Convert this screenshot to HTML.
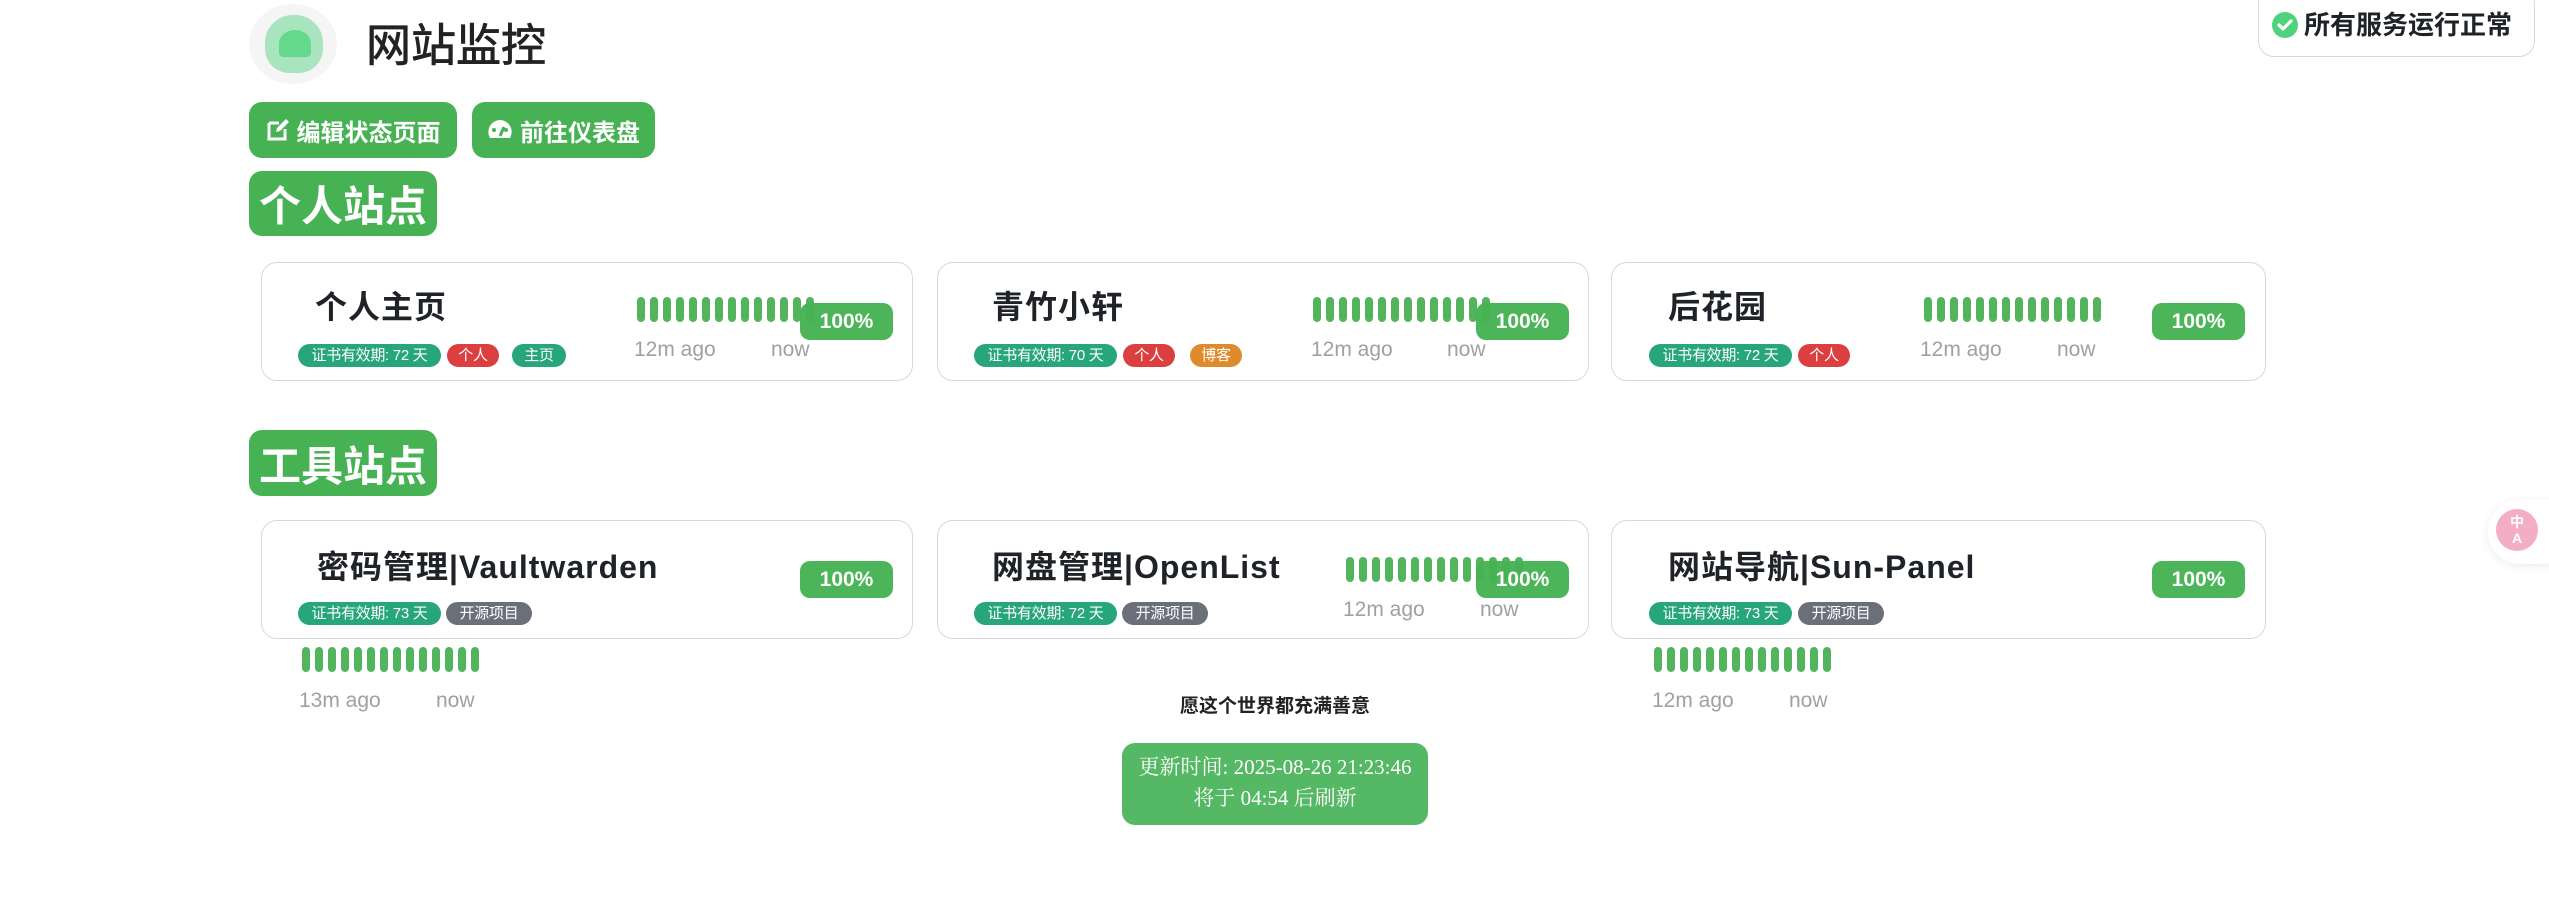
<!DOCTYPE html>
<html><head><meta charset="utf-8">
<style>
*{box-sizing:border-box;margin:0;padding:0}
body{width:2549px;height:907px;background:#fff;position:relative;overflow:hidden;font-family:"Liberation Sans","Noto Sans CJK SC",sans-serif;color:#222}
.a{position:absolute}
.btn{position:absolute;background:#47b254;color:#fff;border-radius:13px;font-weight:bold;display:flex;align-items:center;justify-content:center}
.card{position:absolute;border:1.5px solid #d8d8d8;border-radius:16px;background:#fff}
.t{position:absolute;font-size:32px;font-weight:bold;color:#1f2328;white-space:nowrap;line-height:40px;letter-spacing:1px}
.tag{position:absolute;height:23px;border-radius:12px;color:#fff;font-size:15px;line-height:23px;text-align:center;white-space:nowrap;letter-spacing:-0.3px}
.w1{width:143px}.w2{width:52px}.w3{width:86px}
.g{background:#27a57b}.r{background:#dc3f3f}.o{background:#e08b2b}.k{background:#6b6f7a}
.bars{position:absolute;display:flex;gap:5px;height:25px}
.bars i{display:block;width:8px;height:25px;border-radius:4px;background:#52b55e}
.tm{position:absolute;font-size:21px;color:#a0a0a0;line-height:24px;white-space:nowrap}
.pct{position:absolute;width:93px;height:37px;border-radius:10px;background:#47b254;color:#fff;font-weight:bold;font-size:21px;line-height:37px;text-align:center;opacity:.97}
</style></head><body>

<div class="a" style="left:249px;top:4px;width:88px;height:80px;border-radius:50%;background:#f4f5f4"></div>
<div class="a" style="left:265px;top:15px;width:58px;height:58px;border-radius:48% 48% 42% 42%;background:#a8e4bd"></div>
<div class="a" style="left:279px;top:30px;width:32px;height:27px;border-radius:50% 50% 14% 14%;background:#64d98c"></div>
<div class="a" style="left:366px;top:18px;font-size:45px;line-height:56px;color:#222;-webkit-text-stroke:0.8px #222">网站监控</div>

<div class="btn" style="left:249px;top:102px;width:208px;height:56px;font-size:24px">
<svg width="24" height="24" viewBox="0 0 24 24" style="margin-right:7px"><path d="M3 5h10M3 5v16h16V11" stroke="#fff" stroke-width="3" fill="none"/><path d="M10 14l1-4 9-9 3 3-9 9z" fill="#fff"/></svg>编辑状态页面</div>
<div class="btn" style="left:472px;top:102px;width:183px;height:56px;font-size:24px">
<svg width="26" height="24" viewBox="0 0 26 24" style="margin-right:7px"><path d="M13 2A12 12 0 0 0 3 20h20A12 12 0 0 0 13 2z" fill="#fff"/><path d="M13 18l4-9" stroke="#47b254" stroke-width="3"/><circle cx="7" cy="12" r="2" fill="#47b254"/><circle cx="19" cy="12" r="2" fill="#47b254"/></svg>前往仪表盘</div>

<div class="btn" style="left:249px;top:171px;width:188px;height:65px;font-size:42px">个人站点</div>
<div class="btn" style="left:249px;top:430px;width:188px;height:66px;font-size:42px">工具站点</div>

<!-- row 1 -->
<div class="card" style="left:261px;top:262px;width:652px;height:119px"></div>
<div class="card" style="left:937px;top:262px;width:652px;height:119px"></div>
<div class="card" style="left:1611px;top:262px;width:655px;height:119px"></div>

<div class="t" style="left:315px;top:287px">个人主页</div>
<div class="tag g w1" style="left:298px;top:344px">证书有效期: 72 天</div>
<div class="tag r w2" style="left:447px;top:344px">个人</div>
<div class="tag g" style="left:512px;top:344px;width:54px">主页</div>
<div class="bars" style="left:637px;top:297px"><i></i><i></i><i></i><i></i><i></i><i></i><i></i><i></i><i></i><i></i><i></i><i></i><i></i><i></i></div>
<div class="tm" style="left:634px;top:338px">12m ago</div><div class="tm" style="left:771px;top:338px">now</div>
<div class="pct" style="left:800px;top:303px">100%</div>

<div class="t" style="left:992px;top:287px">青竹小轩</div>
<div class="tag g w1" style="left:974px;top:344px">证书有效期: 70 天</div>
<div class="tag r w2" style="left:1123px;top:344px">个人</div>
<div class="tag o w2" style="left:1190px;top:344px">博客</div>
<div class="bars" style="left:1313px;top:297px"><i></i><i></i><i></i><i></i><i></i><i></i><i></i><i></i><i></i><i></i><i></i><i></i><i></i><i></i></div>
<div class="tm" style="left:1311px;top:338px">12m ago</div><div class="tm" style="left:1447px;top:338px">now</div>
<div class="pct" style="left:1476px;top:303px">100%</div>

<div class="t" style="left:1668px;top:287px">后花园</div>
<div class="tag g w1" style="left:1649px;top:344px">证书有效期: 72 天</div>
<div class="tag r w2" style="left:1798px;top:344px">个人</div>
<div class="bars" style="left:1924px;top:297px"><i></i><i></i><i></i><i></i><i></i><i></i><i></i><i></i><i></i><i></i><i></i><i></i><i></i><i></i></div>
<div class="tm" style="left:1920px;top:338px">12m ago</div><div class="tm" style="left:2057px;top:338px">now</div>
<div class="pct" style="left:2152px;top:303px">100%</div>

<!-- row 2 -->
<div class="card" style="left:261px;top:520px;width:652px;height:119px"></div>
<div class="card" style="left:937px;top:520px;width:652px;height:119px"></div>
<div class="card" style="left:1611px;top:520px;width:655px;height:119px"></div>

<div class="t" style="left:317px;top:547px">密码管理|Vaultwarden</div>
<div class="tag g w1" style="left:298px;top:602px">证书有效期: 73 天</div>
<div class="tag k w3" style="left:446px;top:602px">开源项目</div>
<div class="pct" style="left:800px;top:561px">100%</div>
<div class="bars" style="left:302px;top:647px"><i></i><i></i><i></i><i></i><i></i><i></i><i></i><i></i><i></i><i></i><i></i><i></i><i></i><i></i></div>
<div class="tm" style="left:299px;top:689px">13m ago</div><div class="tm" style="left:436px;top:689px">now</div>

<div class="t" style="left:992px;top:547px">网盘管理|OpenList</div>
<div class="tag g w1" style="left:974px;top:602px">证书有效期: 72 天</div>
<div class="tag k w3" style="left:1122px;top:602px">开源项目</div>
<div class="bars" style="left:1346px;top:557px"><i></i><i></i><i></i><i></i><i></i><i></i><i></i><i></i><i></i><i></i><i></i><i></i><i></i><i></i></div>
<div class="pct" style="left:1476px;top:561px">100%</div>
<div class="tm" style="left:1343px;top:598px">12m ago</div><div class="tm" style="left:1480px;top:598px">now</div>

<div class="t" style="left:1668px;top:547px">网站导航|Sun-Panel</div>
<div class="tag g w1" style="left:1649px;top:602px">证书有效期: 73 天</div>
<div class="tag k w3" style="left:1798px;top:602px">开源项目</div>
<div class="pct" style="left:2152px;top:561px">100%</div>
<div class="bars" style="left:1654px;top:647px"><i></i><i></i><i></i><i></i><i></i><i></i><i></i><i></i><i></i><i></i><i></i><i></i><i></i><i></i></div>
<div class="tm" style="left:1652px;top:689px">12m ago</div><div class="tm" style="left:1789px;top:689px">now</div>

<div class="a" style="left:1075px;top:691px;width:400px;text-align:center;font-size:19px;font-weight:bold;color:#222">愿这个世界都充满善意</div>

<div class="a" style="left:1122px;top:743px;width:306px;height:82px;border-radius:13px;background:#55b864;color:#fff;text-align:center;font-family:'Liberation Serif','Noto Serif CJK SC',serif;font-size:21px;line-height:31px;padding-top:9px">更新时间: 2025-08-26 21:23:46<br>将于 04:54 后刷新</div>

<div class="a" style="left:2258px;top:-12px;width:277px;height:69px;border:1.5px solid #d8d8d8;border-radius:16px;background:#fff"></div>
<svg class="a" style="left:2271px;top:11px" width="28" height="28" viewBox="0 0 28 28"><circle cx="14" cy="14" r="13" fill="#4ed27d"/><path d="M8 14l4 4 8-8" stroke="#fff" stroke-width="3.2" fill="none" stroke-linecap="round" stroke-linejoin="round"/></svg>
<div class="a" style="left:2304px;top:8px;font-size:26px;font-weight:bold;line-height:34px;color:#1f2328">所有服务运行正常</div>

<div class="a" style="left:2488px;top:500px;width:90px;height:64px;border-radius:32px;background:#fff;box-shadow:0 2px 10px rgba(0,0,0,.08)"></div>
<div class="a" style="left:2496px;top:509px;width:42px;height:42px;border-radius:50%;background:#f3adc4;color:#fff;font-size:14px;font-weight:bold;line-height:16px;text-align:center;padding-top:5px">中<br>A</div>
</body></html>
